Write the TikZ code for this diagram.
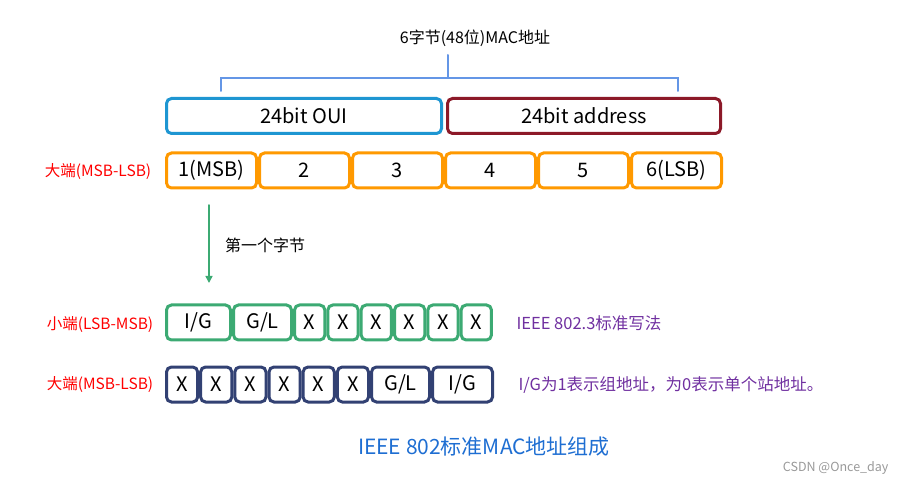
\documentclass[tikz,border=0pt]{standalone}
\usepackage{fontspec}
\setmainfont{Noto Sans CJK SC}
\usetikzlibrary{arrows.meta}

\begin{document}
\begin{tikzpicture}
			[x=1pt,y=-1pt,line cap=round,
			%Styles
			field box/.style={draw=#1,rounded corners=5pt,line width=3pt,fill=white,inner sep=0pt,minimum height=35pt,font=\fontsize{20}{22}\selectfont},
			endian text/.style={text=endianred,font=\fontsize{15.5}{17}\selectfont},
			note text/.style={text=notepurple,font=\fontsize{16.5}{18}\selectfont,anchor=west},
			bracket/.style={draw=bracketblue,line width=2pt}
			]
			
			%Colors
			\definecolor{ouiblue}{RGB}{30,150,210}
			\definecolor{addrred}{RGB}{140,25,40}
			\definecolor{byteorange}{RGB}{255,153,0}
			\definecolor{lsbgreen}{RGB}{60,170,115}
			\definecolor{msbnavy}{RGB}{50,65,115}
			\definecolor{notepurple}{RGB}{112,48,160}
			\definecolor{bracketblue}{RGB}{100,150,230}
			\definecolor{captionblue}{RGB}{30,110,210}
			\definecolor{endianred}{RGB}{255,0,0}
			
			\useasboundingbox (0,0) rectangle (905,486);
			
			%The graphic
			\node[font=\fontsize{16}{18}\selectfont] (mac) at (475,38) {6字节(48位)MAC地址};
			\coordinate (brtop) at (448,55);
			\coordinate (brmid) at (448,78);
			\coordinate (brleft) at (221,91);
			\coordinate (brright) at (678,91);
			\draw[bracket] (brleft) |- (brmid) -| (brright);
			\draw[bracket] (brmid) -- (brtop);
			
			\node[field box=ouiblue,minimum width=275pt] (oui) at (304,116) {24bit OUI};
			\node[field box=addrred,minimum width=273pt] (addr) at (584,116) {24bit address};
			
			\node[endian text] (bigtop) at (98,172) {大端(MSB-LSB)};
			\node[field box=byteorange,minimum width=90pt] (b1) at (211.5,170.5) {1(MSB)};
			\node[field box=byteorange,minimum width=90pt] (b2) at (304.5,170.5) {2};
			\node[field box=byteorange,minimum width=90pt] (b3) at (397.5,170.5) {3};
			\node[field box=byteorange,minimum width=90pt] (b4) at (490.5,170.5) {4};
			\node[field box=byteorange,minimum width=90pt] (b5) at (583.5,170.5) {5};
			\node[field box=byteorange,minimum width=90pt] (b6) at (676.5,170.5) {6(LSB)};
			
			\coordinate (arrowtop) at (209,205);
			\coordinate (arrowend) at (209,283);
			\draw[draw=lsbgreen,line width=1.5pt,-{Triangle[width=7pt,length=7pt]}] (arrowtop) -- (arrowend);
			\node[font=\fontsize{16}{18}\selectfont] (first) at (265,245) {第一个字节};
			
			\node[endian text] (little) at (100,325) {小端(LSB-MSB)};
			\node[field box=lsbgreen,minimum width=64pt] (lig) at (198.5,322.5) {I/G};
			\node[field box=lsbgreen,minimum width=58pt] (lgl) at (262.5,322.5) {G/L};
			\node[field box=lsbgreen,minimum width=30.3pt] (lx1) at (309.7,322.5) {X};
			\node[field box=lsbgreen,minimum width=30.3pt] (lx2) at (343,322.5) {X};
			\node[field box=lsbgreen,minimum width=30.3pt] (lx3) at (376.3,322.5) {X};
			\node[field box=lsbgreen,minimum width=30.3pt] (lx4) at (409.7,322.5) {X};
			\node[field box=lsbgreen,minimum width=30.3pt] (lx5) at (443,322.5) {X};
			\node[field box=lsbgreen,minimum width=30.3pt] (lx6) at (476.3,322.5) {X};
			\node[note text] (ieee) at (513,323) {IEEE 802.3标准写法};
			
			\node[endian text] (big) at (100,385) {大端(MSB-LSB)};
			\node[field box=msbnavy,minimum width=31.2pt] (mx1) at (182.1,384.5) {X};
			\node[field box=msbnavy,minimum width=31.2pt] (mx2) at (216.2,384.5) {X};
			\node[field box=msbnavy,minimum width=31.2pt] (mx3) at (250.4,384.5) {X};
			\node[field box=msbnavy,minimum width=31.2pt] (mx4) at (284.6,384.5) {X};
			\node[field box=msbnavy,minimum width=31.2pt] (mx5) at (318.7,384.5) {X};
			\node[field box=msbnavy,minimum width=31.2pt] (mx6) at (352.9,384.5) {X};
			\node[field box=msbnavy,minimum width=58pt] (mgl) at (400.5,384.5) {G/L};
			\node[field box=msbnavy,minimum width=60pt] (mig) at (462.5,384.5) {I/G};
			\node[note text] (igbit) at (515,385) {I/G为1表示组地址，为0表示单个站地址。};
			
			\node[text=captionblue,font=\fontsize{21}{23}\selectfont] (caption) at (484,447) {IEEE 802标准MAC地址组成};
			\node[text=black!40,font=\fontsize{12.5}{14}\selectfont,anchor=east] (mark) at (892,468) {CSDN @Once\_day};
		\end{tikzpicture}
\end{document}
